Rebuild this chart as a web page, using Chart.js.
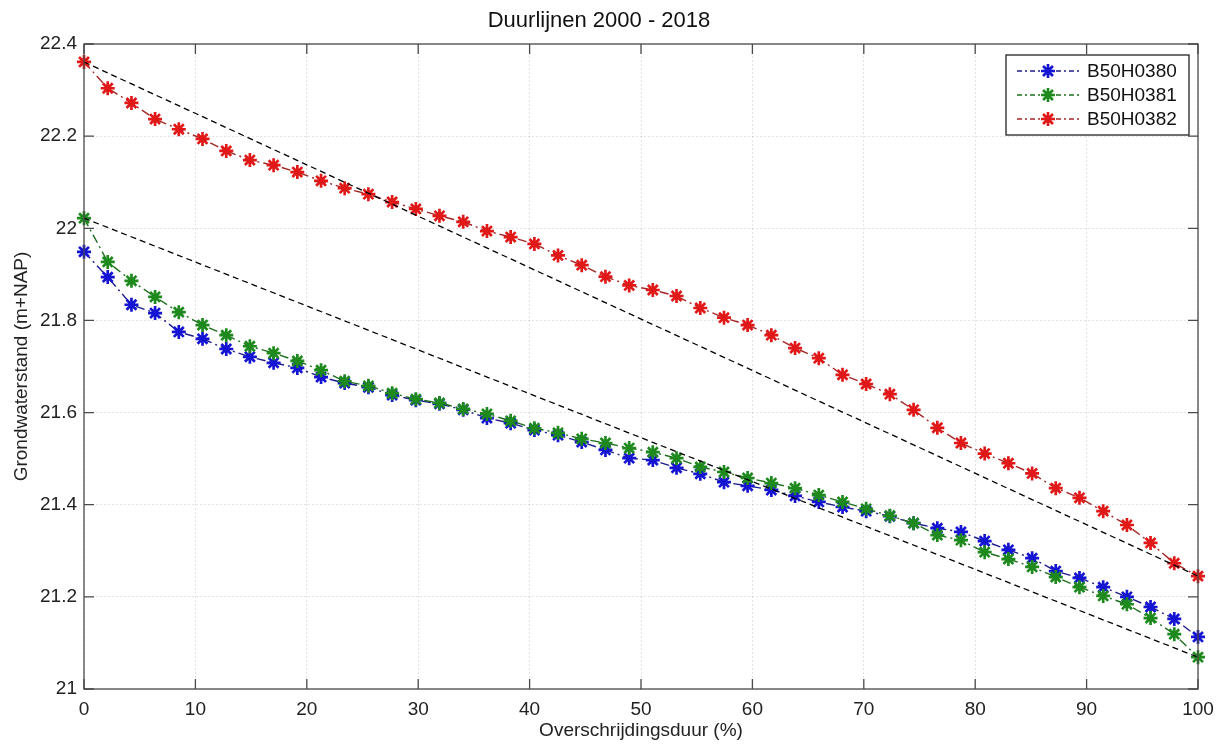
<!DOCTYPE html>
<html>
<head>
<meta charset="utf-8">
<title>Duurlijnen 2000 - 2018</title>
<script src="https://cdn.jsdelivr.net/npm/chart.js@4.4.0/dist/chart.umd.min.js"></script>
<style>
  html, body { margin: 0; padding: 0; background: #fff; }
  canvas { display: block; }
</style>
</head>
<body>
<canvas id="myChart" width="1225" height="745"></canvas>
<script>
// exceedance duration (%) of each point
var overschrijding = [0, 2.13, 4.26, 6.38, 8.51, 10.64, 12.77, 14.89, 17.02, 19.15,
    21.28, 23.40, 25.53, 27.66, 29.79, 31.91, 34.04, 36.17, 38.30, 40.43,
    42.55, 44.68, 46.81, 48.94, 51.06, 53.19, 55.32, 57.45, 59.57, 61.70,
    63.83, 65.96, 68.09, 70.21, 72.34, 74.47, 76.60, 78.72, 80.85, 82.98,
    85.11, 87.23, 89.36, 91.49, 93.62, 95.74, 97.87, 100];

var b50h0380 = [21.949, 21.894, 21.834, 21.816, 21.775, 21.760, 21.738, 21.721, 21.708, 21.697,
    21.677, 21.664, 21.655, 21.638, 21.627, 21.619, 21.606, 21.588, 21.577, 21.562,
    21.551, 21.536, 21.519, 21.501, 21.497, 21.480, 21.467, 21.449, 21.441, 21.432,
    21.419, 21.406, 21.395, 21.386, 21.375, 21.360, 21.349, 21.341, 21.321, 21.302,
    21.284, 21.256, 21.241, 21.221, 21.200, 21.178, 21.152, 21.113];

var b50h0381 = [22.022, 21.927, 21.886, 21.851, 21.818, 21.790, 21.768, 21.744, 21.729, 21.712,
    21.692, 21.668, 21.658, 21.642, 21.629, 21.621, 21.608, 21.597, 21.582, 21.566,
    21.556, 21.543, 21.534, 21.523, 21.514, 21.501, 21.482, 21.471, 21.458, 21.447,
    21.436, 21.421, 21.406, 21.391, 21.376, 21.360, 21.334, 21.323, 21.297, 21.282,
    21.265, 21.243, 21.221, 21.202, 21.184, 21.154, 21.119, 21.069];

var b50h0382 = [22.361, 22.304, 22.272, 22.237, 22.215, 22.194, 22.168, 22.148, 22.137, 22.122,
    22.103, 22.087, 22.074, 22.057, 22.042, 22.027, 22.014, 21.994, 21.981, 21.966,
    21.941, 21.920, 21.895, 21.876, 21.866, 21.853, 21.827, 21.806, 21.790, 21.768,
    21.740, 21.718, 21.682, 21.662, 21.640, 21.606, 21.567, 21.534, 21.511, 21.490,
    21.468, 21.436, 21.415, 21.386, 21.356, 21.317, 21.273, 21.245];

// straight dashed reference lines (start and end)
var lijnX = [0, 100];
var lijnBoven = [22.361, 21.245];
var lijnOnder = [22.022, 21.069];

var seriesNames = ['B50H0380', 'B50H0381', 'B50H0382'];

var fontFamily = "'Liberation Sans', Arial, Helvetica, sans-serif";

function toPoints(xs, ys) {
    var pts = [];
    for (let i = 0; i < ys.length; i++) {
        pts.push({ x: xs[i], y: ys[i] });
    }
    return pts;
}

function seriesSet(label, values, lineColor, markColor, order) {
    return {
        label: label,
        data: toPoints(overschrijding, values),
        borderColor: lineColor,
        borderWidth: 1.4,
        borderDash: [9, 4, 2, 4],
        pointStyle: 'star',
        pointRadius: 7,
        pointBorderWidth: 2.7,
        pointBorderColor: markColor,
        pointBackgroundColor: markColor,
        markColor: markColor,
        showLine: true,
        clip: false,
        order: order
    };
}

function refSet(values) {
    return {
        label: '',
        data: toPoints(lijnX, values),
        borderColor: '#000',
        borderWidth: 1.3,
        borderDash: [6, 4],
        pointRadius: 0,
        showLine: true,
        clip: false,
        order: 0,
        isRef: true
    };
}

// box round the axes, inward tick marks and the boxed legend
const framePlugin = {
    id: 'frame',
    afterDraw(chart) {
        const c = chart.ctx;
        const a = chart.chartArea;
        const xs = chart.scales.x;
        const ys = chart.scales.y;
        const tl = 10;
        c.save();
        c.strokeStyle = '#4a4a4a';
        c.lineWidth = 1.3;
        c.setLineDash([]);
        c.strokeRect(a.left, a.top, a.right - a.left, a.bottom - a.top);
        c.beginPath();
        xs.ticks.forEach(function (t) {
            const px = xs.getPixelForValue(t.value);
            c.moveTo(px, a.bottom); c.lineTo(px, a.bottom - tl);
            c.moveTo(px, a.top); c.lineTo(px, a.top + tl);
        });
        ys.ticks.forEach(function (t) {
            const py = ys.getPixelForValue(t.value);
            c.moveTo(a.left, py); c.lineTo(a.left + tl, py);
            c.moveTo(a.right, py); c.lineTo(a.right - tl, py);
        });
        c.stroke();

        // legend
        const sets = chart.data.datasets.filter(function (d) { return !d.isRef; });
        const boxL = a.right - 192, boxT = a.top + 11, boxW = 183, boxH = 80;
        c.fillStyle = '#fff';
        c.fillRect(boxL, boxT, boxW, boxH);
        c.strokeStyle = '#222';
        c.lineWidth = 1.3;
        c.strokeRect(boxL, boxT, boxW, boxH);
        c.font = '19px ' + fontFamily;
        c.textBaseline = 'middle';
        c.textAlign = 'left';
        sets.forEach(function (d, i) {
            const cy = boxT + 16 + i * 24;
            c.strokeStyle = d.borderColor;
            c.lineWidth = 1.4;
            c.setLineDash([5, 3, 2, 3]);
            c.beginPath();
            c.moveTo(boxL + 11, cy); c.lineTo(boxL + 75, cy);
            c.stroke();
            c.setLineDash([]);
            c.strokeStyle = d.markColor;
            c.fillStyle = d.markColor;
            c.lineWidth = 2.7;
            Chart.helpers.drawPoint(c, { pointStyle: 'star', radius: 7, borderWidth: 2.7, rotation: 0 }, boxL + 42, cy);
            c.fillStyle = '#111';
            c.fillText(d.label, boxL + 81, cy + 1);
        });
        c.restore();
    }
};

const ctx = document.getElementById('myChart');

new Chart(ctx, {
    type: 'scatter',
    data: {
        datasets: [
            seriesSet(seriesNames[0], b50h0380, '#1c1c8c', '#1414d2', 3),
            seriesSet(seriesNames[1], b50h0381, '#1d6e1d', '#1e8a1e', 2),
            seriesSet(seriesNames[2], b50h0382, '#a52626', '#e01818', 1),
            refSet(lijnBoven),
            refSet(lijnOnder)
        ]
    },
    options: {
        responsive: false,
        animation: false,
        layout: { padding: { left: 0, right: 27, top: 0, bottom: 0 } },
        plugins: {
            legend: { display: false },
            tooltip: { enabled: false },
            title: {
                display: true,
                text: 'Duurlijnen 2000 - 2018',
                color: '#111',
                font: { family: fontFamily, size: 22, weight: 'normal' },
                padding: { top: 8, bottom: 9.6 }
            }
        },
        scales: {
            x: {
                type: 'linear',
                min: 0,
                max: 100,
                ticks: {
                    stepSize: 10,
                    color: '#222',
                    padding: 9,
                    font: { family: fontFamily, size: 19 }
                },
                grid: { color: 'rgba(0,0,0,0.11)', drawTicks: false },
                border: { display: false, dash: [2, 2] },
                title: {
                    display: true,
                    text: 'Overschrijdingsduur (%)',
                    color: '#222',
                    font: { family: fontFamily, size: 19 },
                    padding: { top: 0, bottom: 3 }
                },
                afterFit: function (s) { s.height = 56; }
            },
            y: {
                type: 'linear',
                min: 21,
                max: 22.4,
                ticks: {
                    stepSize: 0.2,
                    color: '#222',
                    padding: 7,
                    font: { family: fontFamily, size: 19 },
                    callback: function (v) { return String(Number(v.toFixed(2))); }
                },
                grid: { color: 'rgba(0,0,0,0.11)', drawTicks: false },
                border: { display: false, dash: [2, 2] },
                title: {
                    display: true,
                    text: 'Grondwaterstand (m+NAP)',
                    color: '#222',
                    font: { family: fontFamily, size: 19 },
                    padding: { top: 10, bottom: 0 }
                },
                afterFit: function (s) { s.width = 84; }
            }
        }
    },
    plugins: [framePlugin]
});
</script>
</body>
</html>
